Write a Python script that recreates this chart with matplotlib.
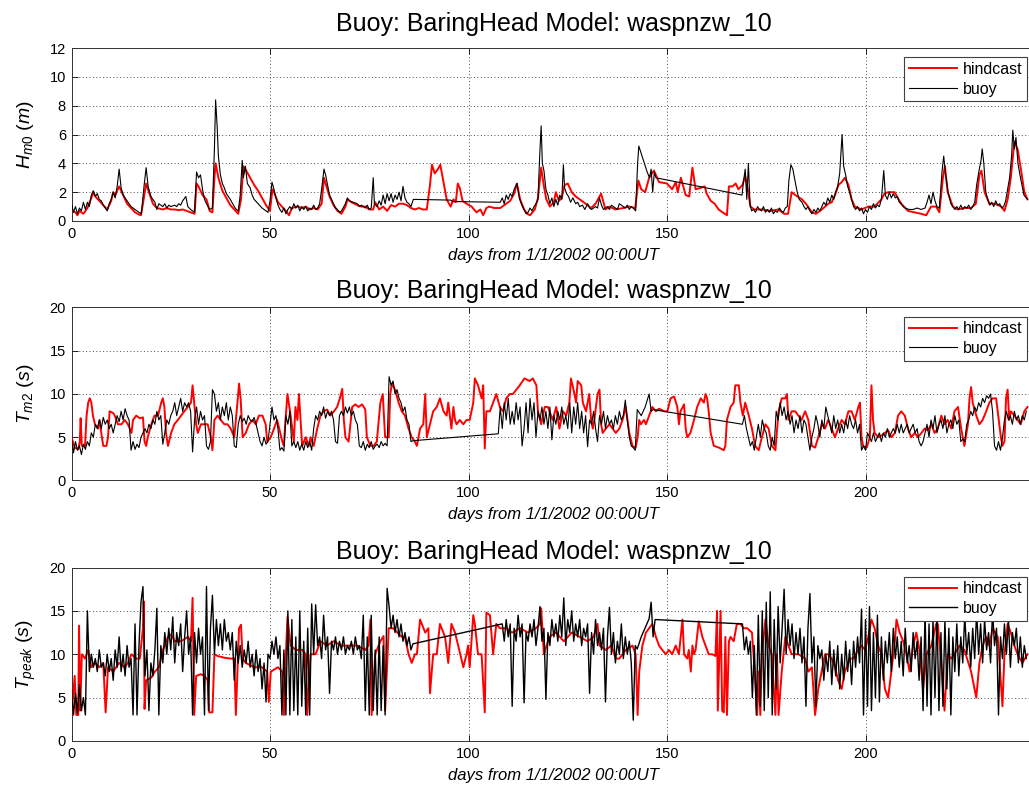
import numpy as np
import matplotlib
matplotlib.use("Agg")
import matplotlib.pyplot as plt

plt.rcParams["font.family"] = ["Liberation Sans", "DejaVu Sans"]
plt.rcParams["mathtext.fontset"] = "custom"
plt.rcParams["mathtext.rm"] = "Liberation Sans"
plt.rcParams["mathtext.it"] = "Liberation Sans:italic"
plt.rcParams["mathtext.bf"] = "Liberation Sans:bold"
plt.rcParams["mathtext.default"] = "it"

TITLE = "Buoy: BaringHead Model: waspnzw_10"
XLABEL = "days from 1/1/2002 00:00UT"
SERIES_NAMES = ["hindcast", "buoy"]
X_TICKS = [0, 50, 100, 150, 200]
HS_TICKS = [0, 2, 4, 6, 8, 10, 12]
T_TICKS = [0, 5, 10, 15, 20]
YLABELS = [r"$H_{m0}\ (m)$", r"$T_{m2}\ (s)$", r"$T_{peak}\ (s)$"]

# ---------------- Hm0 (m) ----------------
hs_hindcast = [
    (0, 0.7), (1, 0.6), (1.5, 0.4), (2, 0.7), (3, 0.5), (4, 0.9), (5, 1.6), (5.5, 2.0), (6, 1.7), (7, 1.4),
    (8, 1.1), (9, 0.8), (10, 1.4), (10.5, 2.0), (11, 1.8), (12, 2.4), (13, 1.8), (14, 1.2), (15, 0.9), (16, 0.6),
    (17, 0.45), (17.5, 0.4), (18, 1.2), (18.8, 2.6), (19.5, 2.0), (20.5, 1.2), (21.5, 0.9), (23, 0.8), (24, 0.9),
    (25, 0.8), (26, 0.8), (27, 0.75), (28, 0.8), (29, 0.7), (30, 0.6), (31, 0.5), (31.5, 2.6), (32, 2.4), (33, 1.8),
    (34, 1.5), (34.8, 0.7), (35.5, 0.6), (36, 3.0), (36.3, 4.0), (37, 3.0), (38, 2.1), (39, 1.6), (40, 1.1),
    (41, 0.8), (42, 0.5), (42.7, 1.5), (43.3, 3.8), (44, 3.5), (45, 3.0), (46, 2.5), (47, 2.1), (48, 1.6),
    (49, 1.1), (50, 0.7), (50.6, 2.2), (51, 2.0), (52, 1.3), (53, 1.0), (54, 0.7), (54.8, 0.4), (55.5, 0.9),
    (57, 1.0), (58, 0.9), (59, 1.0), (60, 0.8), (61, 0.9), (62, 0.8), (63, 1.2), (63.6, 3.0), (64, 2.6), (65, 1.7),
    (66, 1.1), (67, 0.7), (68, 0.5), (69, 1.0), (69.5, 1.5), (70.5, 1.3), (72, 1.1), (73, 1.0), (74, 1.0),
    (75, 0.8), (76, 0.8), (76.5, 1.3), (77.5, 0.8), (78.5, 1.0), (79.5, 0.7), (80.5, 1.1), (81.5, 1.0),
    (82.5, 1.2), (83.5, 1.2), (84.5, 1.1), (85.5, 0.9), (86.5, 0.8), (87.5, 0.9), (88.5, 0.8), (89.5, 0.8),
    (90.3, 2.5), (90.8, 3.9), (91.5, 3.3), (92.3, 3.6), (92.9, 3.9), (93.7, 2.7), (94.5, 1.5), (95.5, 1.0),
    (96.2, 1.5), (96.8, 1.3), (97.3, 2.6), (97.8, 2.3), (98.5, 1.4), (99.5, 1.2), (100.8, 1.0), (102, 0.6),
    (103, 0.8), (103.7, 0.4), (104.5, 0.9), (105.2, 1.0), (106.5, 0.9), (108, 0.9), (109.5, 1.2), (110.5, 1.4),
    (111.5, 1.9), (112.2, 2.6), (113, 1.5), (114, 0.8), (114.8, 0.5), (115.5, 0.4), (116.7, 0.8), (117.5, 1.6),
    (118.3, 3.7), (119, 2.4), (119.6, 1.5), (120.5, 1.0), (121.5, 1.3), (122, 2.0), (122.8, 1.4), (123.5, 1.6),
    (124.2, 2.5), (125, 2.6), (126, 2.0), (127, 1.7), (128.5, 1.4), (129.5, 1.2), (130.9, 0.9), (132, 1.2),
    (133.4, 1.9), (134.5, 0.8), (135.5, 1.0), (137, 0.8), (139, 0.9), (140.5, 1.0), (142, 0.9), (142.8, 2.8),
    (143.5, 2.2), (144.5, 2.0), (145.5, 3.0), (146.7, 3.5), (148, 2.7), (150, 2.6), (151.3, 2.2), (152.2, 2.7),
    (152.7, 2.0), (153.5, 3.0), (154.7, 1.8), (155.6, 1.7), (156.4, 3.7), (157.2, 2.2), (158.5, 2.3),
    (159.5, 2.4), (160, 1.9), (161, 1.4), (162, 1.2), (163, 0.8), (164, 0.6), (165.1, 0.4), (165.6, 2.4),
    (166.5, 2.4), (167.3, 2.6), (168, 2.2), (169, 2.5), (169.7, 3.1), (170.5, 2.0), (171, 1.0), (172, 0.8),
    (174, 0.8), (176, 0.7), (178, 0.8), (179.5, 0.5), (180.5, 0.5), (181.4, 2.0), (182.3, 1.8), (184, 1.5),
    (185, 1.2), (186.5, 0.6), (187.5, 0.5), (189, 0.8), (190.6, 1.2), (191.5, 1.3), (192.3, 1.8), (193.2, 2.5),
    (194, 2.7), (194.8, 3.0), (195.7, 2.5), (196.5, 1.5), (197.3, 1.0), (199, 0.8), (200.7, 1.0), (202.3, 1.0),
    (204, 1.5), (204.8, 1.9), (205.7, 2.0), (207.3, 2.0), (209, 1.2), (210.7, 0.7), (212.4, 0.6), (214, 0.5),
    (215.3, 0.4), (216.5, 1.0), (217.8, 1.0), (218.6, 0.6), (219.5, 3.0), (220, 3.8), (220.7, 2.0), (222, 1.0),
    (223.2, 0.8), (225, 0.9), (226.6, 0.9), (227.8, 1.2), (228.7, 3.2), (229.2, 3.5), (230, 2.0), (231.2, 1.2),
    (232.5, 1.2), (234.2, 1.0), (235, 0.7), (235.8, 1.5), (236.6, 3.0), (237.5, 5.5), (238.3, 5.0),
    (239.2, 3.5), (240, 2.0), (240.8, 1.5),
]

hs_buoy = [
    (0, 1.2), (0.5, 0.6), (1, 1.0), (1.5, 0.5), (2, 0.9), (2.5, 0.7), (3, 1.3), (3.5, 0.8), (4, 1.3), (4.5, 1.0),
    (5, 1.8), (5.5, 2.1), (6, 1.7), (6.5, 1.9), (7, 1.5), (7.5, 1.4), (8, 1.1), (8.5, 0.9), (9, 0.7), (9.5, 1.2),
    (10, 1.5), (10.5, 2.0), (11, 1.6), (11.5, 2.4), (12, 3.6), (12.5, 2.3), (13, 1.8), (14, 1.4), (15, 1.0),
    (16, 0.8), (17, 0.6), (17.6, 0.5), (18.3, 2.5), (18.8, 3.7), (19.3, 2.4), (20, 1.7), (21, 1.3), (21.5, 0.8),
    (22, 1.2), (23, 1.0), (23.5, 1.2), (24, 0.9), (24.5, 1.1), (25, 1.0), (26, 1.1), (26.5, 1.0), (27, 1.2),
    (27.5, 1.1), (28, 1.4), (28.8, 1.7), (29.3, 1.0), (30, 0.8), (30.5, 0.7), (31, 0.6), (31.5, 3.4), (32, 3.0),
    (32.5, 3.2), (33, 2.2), (33.5, 1.5), (34, 1.2), (34.8, 0.8), (35.5, 0.9), (36, 5.0), (36.3, 8.4), (36.7, 6.5),
    (37, 4.5), (37.5, 3.2), (38, 2.6), (38.5, 2.3), (39, 1.9), (40, 1.5), (41, 1.0), (41.5, 0.8), (42, 0.7),
    (42.5, 1.8), (43, 4.2), (43.3, 3.0), (43.8, 3.8), (44.3, 2.6), (45, 2.3), (45.5, 1.8), (46, 1.5), (47, 1.2),
    (48, 0.9), (49, 0.7), (49.5, 0.6), (50, 1.4), (50.5, 2.7), (51, 2.2), (51.5, 1.6), (52, 1.1), (52.5, 0.8),
    (53, 0.6), (53.5, 0.9), (54, 0.5), (54.5, 0.8), (55, 1.0), (55.5, 0.8), (56, 1.2), (56.5, 0.9), (57, 1.1),
    (57.5, 0.7), (58, 1.0), (58.5, 0.8), (59, 1.0), (59.5, 0.7), (60, 0.9), (60.5, 0.8), (61, 1.1), (61.5, 0.8),
    (62, 0.9), (62.5, 1.2), (63, 2.2), (63.6, 3.6), (64, 3.2), (64.5, 2.5), (65, 1.8), (66, 1.2), (66.5, 0.9),
    (67, 0.8), (67.5, 0.6), (68, 0.7), (69, 1.2), (69.5, 1.6), (70, 1.4), (71, 1.3), (72, 1.2), (72.5, 1.0),
    (73, 1.1), (74, 0.9), (74.5, 1.1), (75, 0.8), (75.5, 0.9), (76, 3.0), (76.3, 1.2), (77, 1.0), (77.5, 1.4),
    (78, 1.1), (78.5, 1.8), (79, 1.2), (79.5, 1.9), (80, 1.4), (80.5, 1.9), (81, 1.3), (81.5, 1.8), (82, 1.5),
    (82.5, 2.0), (83, 1.4), (83.5, 2.4), (84, 1.6), (84.5, 1.3), (85, 1.2), (85.5, 1.0), (86.1, 1.5),
    (95.5, 1.45), (96, 1.35), (108, 1.3), (108.5, 1.6), (109, 1.2), (109.5, 1.8), (110, 1.5), (110.5, 1.9),
    (111, 1.7), (111.5, 2.2), (112.2, 2.6), (112.8, 1.6), (113.3, 1.2), (114, 0.8), (114.5, 0.5), (115, 0.6),
    (115.5, 0.9), (116, 0.7), (116.5, 1.0), (117, 1.2), (117.5, 1.5), (117.9, 4.3), (118.3, 6.6), (118.6, 4.0),
    (119, 3.5), (119.5, 2.2), (120, 1.8), (120.5, 1.2), (121, 1.6), (121.5, 1.0), (122, 1.5), (122.5, 1.1),
    (123, 1.8), (123.5, 1.5), (123.9, 3.9), (124.2, 2.3), (124.7, 1.9), (125.2, 1.7), (125.7, 1.3), (126.3, 1.6),
    (127, 1.2), (127.5, 1.3), (128, 1.0), (128.7, 1.1), (129.3, 0.8), (130, 1.2), (130.5, 0.9), (131, 0.8),
    (132, 1.0), (132.5, 0.9), (133, 1.6), (133.5, 1.1), (134, 0.8), (135, 1.0), (135.5, 0.8), (136, 1.1),
    (137, 0.9), (137.5, 0.8), (138, 1.2), (139, 1.0), (139.5, 0.9), (140, 1.1), (140.5, 0.8), (141, 1.0),
    (141.5, 0.9), (142.1, 0.7), (142.6, 4.0), (142.9, 5.2), (145, 3.4), (145.6, 3.0), (146, 3.6), (146.4, 2.0),
    (146.8, 3.4), (147.2, 3.0), (168.9, 1.8), (169.3, 2.8), (169.7, 3.6), (170.1, 1.5), (170.5, 4.0),
    (170.9, 1.2), (171.3, 0.7), (171.8, 0.8), (172.3, 0.6), (172.8, 1.0), (173.3, 0.8), (173.8, 0.7),
    (174.3, 1.0), (174.8, 0.6), (175.3, 0.8), (175.8, 0.6), (176.3, 0.9), (176.8, 0.5), (177.3, 0.7),
    (177.8, 0.6), (178.3, 0.9), (178.8, 0.7), (179.3, 0.6), (179.8, 0.9), (180.3, 1.0), (180.7, 2.8),
    (181.2, 3.9), (181.7, 3.6), (182.3, 2.7), (182.8, 2.0), (183.3, 1.5), (184, 1.3), (184.5, 1.0), (185, 0.8),
    (185.5, 1.0), (186, 0.7), (186.5, 0.5), (187, 0.8), (187.5, 0.6), (188, 0.9), (188.5, 0.7), (189, 1.0),
    (189.5, 1.3), (190, 1.1), (190.5, 1.6), (191, 1.3), (191.5, 1.8), (192, 1.5), (192.5, 2.0), (193, 2.4),
    (193.5, 3.3), (194.1, 6.0), (194.5, 3.8), (195, 3.2), (195.5, 2.4), (196, 2.0), (196.5, 1.5), (197, 1.0),
    (197.5, 0.8), (198, 1.0), (198.5, 0.7), (199, 0.9), (199.5, 0.5), (200, 0.8), (200.5, 0.6), (201, 1.0),
    (201.5, 0.8), (202, 1.2), (202.5, 0.9), (203, 1.1), (203.5, 1.0), (204, 1.5), (204.6, 3.5), (205, 1.8),
    (205.5, 1.5), (206, 2.0), (206.5, 1.6), (207, 1.9), (207.5, 1.6), (208, 1.7), (208.5, 1.3), (209, 1.2),
    (209.5, 1.0), (210, 0.9), (211, 0.8), (212, 0.8), (213, 0.9), (214, 0.8), (215, 0.9), (215.5, 1.3),
    (216, 1.8), (216.5, 1.2), (217, 2.0), (217.5, 1.4), (218, 1.0), (218.6, 0.9), (219.3, 3.5), (219.7, 4.5),
    (220.2, 3.2), (220.8, 2.0), (221.5, 1.2), (222, 1.0), (222.5, 0.8), (223, 1.0), (223.5, 0.8), (224, 1.1),
    (224.5, 0.8), (225, 1.0), (225.5, 0.9), (226, 1.1), (226.5, 0.8), (227, 1.0), (227.5, 1.3), (228, 2.5),
    (228.6, 3.5), (229.1, 4.2), (229.4, 5.0), (229.8, 4.0), (230.3, 2.0), (230.8, 1.5), (231.3, 1.1),
    (231.8, 1.3), (232.3, 1.0), (232.8, 1.4), (233.3, 1.1), (233.8, 1.2), (234.3, 0.9), (234.8, 1.0),
    (235.3, 1.4), (235.8, 2.2), (236.3, 3.0), (236.8, 4.5), (237.1, 6.3), (237.5, 5.0), (237.9, 5.8),
    (238.4, 4.0), (238.9, 3.2), (239.4, 2.5), (239.9, 1.8), (240.8, 1.5),
]

# ---------------- Tm02 (s) ----------------
tm_hindcast = [
    (0, 5.0), (0.8, 3.8), (1.7, 3.6), (2.1, 4.5), (2.3, 7.2), (2.6, 4.0), (3.4, 4.0), (3.8, 7.5), (4.2, 9.0),
    (4.6, 9.5), (5.0, 9.0), (5.4, 7.5), (5.9, 6.5), (6.7, 6.0), (7.1, 7.0), (7.5, 5.5), (8.0, 4.0), (8.8, 4.0),
    (9.2, 5.0), (9.6, 8.0), (10.5, 7.8), (10.9, 7.5), (11.7, 6.5), (12.6, 6.5), (13.4, 7.0), (14.2, 6.5),
    (15.1, 5.5), (15.5, 7.0), (16.3, 7.5), (17.2, 7.2), (18.0, 7.3), (18.4, 4.5), (18.8, 4.0), (19.2, 5.0),
    (20.1, 6.5), (20.9, 7.5), (21.8, 7.5), (22.6, 9.0), (23.0, 9.5), (23.4, 8.5), (23.8, 5.5), (24.3, 4.0),
    (25.1, 5.5), (25.9, 6.5), (26.8, 7.0), (27.6, 7.5), (28.4, 8.0), (29.3, 8.5), (30.1, 9.0), (30.5, 11.0),
    (30.9, 9.0), (31.4, 6.5), (31.8, 5.5), (32.6, 6.5), (33.5, 6.5), (34.3, 6.5), (35.1, 5.0), (35.5, 3.5),
    (36.0, 7.0), (36.8, 7.5), (37.6, 7.0), (38.5, 6.5), (39.3, 6.5), (40.1, 6.0), (41.0, 5.0), (41.8, 9.0),
    (42.2, 11.2), (42.6, 9.5), (43.1, 5.0), (43.9, 5.5), (44.7, 6.5), (45.6, 7.0), (46.4, 6.5), (47.2, 7.5),
    (48.1, 7.5), (48.9, 6.5), (49.3, 4.5), (50.2, 5.0), (51.0, 6.0), (51.8, 7.0), (53.1, 4.5), (53.5, 4.0),
    (53.9, 7.0), (54.4, 10.0), (55.2, 7.5), (56.0, 4.5), (56.4, 8.5), (56.9, 7.0), (57.3, 10.0), (57.7, 7.0),
    (58.1, 4.0), (59.0, 5.0), (59.8, 4.0), (60.2, 5.0), (61.0, 4.0), (61.9, 6.0), (62.7, 7.5), (63.5, 8.0),
    (64.4, 8.2), (65.2, 7.5), (66.1, 8.0), (66.9, 8.5), (67.6, 9.5), (68.2, 10.6), (68.6, 7.0), (69.0, 5.0),
    (69.8, 4.5), (70.7, 8.5), (71.5, 8.8), (72.3, 8.5), (73.2, 8.8), (74.0, 8.2), (74.4, 5.0), (75.3, 4.0),
    (76.1, 4.0), (76.9, 4.5), (77.8, 9.0), (78.4, 10.0), (79.0, 5.0), (79.9, 5.0), (80.3, 10.0), (80.7, 11.2),
    (81.5, 10.5), (82.4, 9.0), (83.2, 8.0), (84.0, 7.5), (84.9, 6.0), (85.7, 5.0), (86.5, 4.5), (87.0, 4.0),
    (87.4, 5.0), (87.8, 6.0), (88.6, 6.5), (89.1, 10.0), (89.5, 5.0), (90.3, 6.5), (91.1, 8.0), (92.0, 8.5),
    (92.8, 9.5), (93.7, 8.0), (94.5, 7.5), (94.9, 9.0), (95.3, 7.5), (95.7, 6.0), (96.2, 8.5), (96.6, 7.0),
    (97.0, 6.5), (97.8, 7.0), (98.7, 6.5), (99.5, 7.0), (100.3, 7.0), (101.2, 9.0), (101.6, 11.8), (102.4, 11.0),
    (103.3, 9.5), (103.7, 11.0), (104.1, 3.7), (104.5, 8.0), (105.4, 8.0), (106.2, 9.0), (107.0, 10.0),
    (107.9, 8.5), (108.7, 8.0), (109.5, 9.5), (110.4, 10.0), (111.2, 10.0), (112.9, 11.0), (114.1, 11.8),
    (115.4, 11.5), (116.2, 11.8), (117.1, 11.0), (117.5, 8.0), (118.3, 6.5), (119.2, 8.5), (120.0, 8.5),
    (120.4, 8.0), (121.2, 7.0), (122.1, 8.5), (122.9, 6.0), (123.8, 8.0), (124.6, 7.5), (125.4, 9.0),
    (125.8, 11.8), (126.7, 10.0), (127.1, 9.0), (127.5, 11.5), (128.4, 11.0), (128.8, 9.0), (129.6, 8.0),
    (130.4, 10.0), (130.9, 7.0), (131.3, 6.0), (131.7, 7.0), (132.5, 10.0), (133.0, 10.5), (133.4, 6.5),
    (133.8, 5.5), (134.6, 6.0), (135.5, 6.5), (136.3, 6.0), (137.1, 5.5), (138.0, 6.0), (138.8, 7.0),
    (139.6, 8.5), (140.5, 5.5), (141.3, 4.0), (142.1, 3.8), (142.6, 5.0), (143.0, 7.0), (143.4, 6.5),
    (144.2, 7.0), (144.7, 6.5), (145.5, 7.5), (146.3, 8.5), (147.2, 8.0), (148.0, 8.3), (149.3, 8.0),
    (150.1, 8.0), (150.9, 9.5), (151.8, 9.7), (152.6, 8.5), (153.0, 6.5), (153.4, 8.0), (154.3, 8.8),
    (154.7, 6.0), (155.1, 5.0), (155.9, 5.5), (156.8, 7.0), (157.6, 8.5), (158.5, 9.5), (159.3, 9.0),
    (159.7, 10.0), (160.1, 9.5), (160.5, 8.0), (161.0, 5.5), (161.8, 4.0), (163.1, 3.8), (164.3, 3.5),
    (164.7, 4.0), (165.1, 7.0), (166.0, 8.5), (166.8, 9.0), (167.2, 11.0), (168.1, 11.0), (168.5, 9.0),
    (169.1, 7.5), (169.7, 9.0), (170.6, 7.5), (171.4, 6.0), (172.2, 4.0), (173.1, 3.5), (173.9, 5.0),
    (174.8, 6.5), (175.6, 6.0), (176.4, 4.0), (177.3, 3.5), (178.1, 8.0), (178.9, 9.5), (179.8, 9.5),
    (180.2, 10.0), (180.6, 7.0), (181.4, 8.0), (182.3, 8.0), (183.1, 7.5), (183.9, 7.0), (184.8, 8.0),
    (185.6, 7.0), (186.5, 4.0), (187.3, 3.8), (188.1, 5.0), (189.0, 6.5), (189.8, 6.0), (190.6, 7.0),
    (191.5, 6.0), (192.3, 5.0), (193.1, 6.0), (194.0, 7.0), (194.8, 6.5), (195.7, 8.0), (196.5, 8.0),
    (197.3, 7.0), (198.2, 8.5), (198.6, 9.0), (199.0, 5.0), (199.4, 4.0), (200.3, 3.8), (201.1, 5.0),
    (201.5, 11.0), (201.9, 7.0), (202.3, 5.5), (203.2, 5.0), (204.0, 5.2), (204.9, 5.5), (205.7, 5.8),
    (206.5, 5.0), (207.4, 5.5), (208.2, 7.5), (209.0, 8.0), (209.9, 7.5), (210.7, 6.0), (211.5, 5.0),
    (212.4, 5.5), (213.2, 5.0), (214.1, 5.5), (214.9, 6.0), (215.7, 5.8), (216.6, 6.5), (217.4, 5.5),
    (218.2, 6.0), (219.1, 7.5), (219.9, 6.5), (220.7, 7.0), (221.6, 6.0), (222.4, 8.0), (223.3, 8.5),
    (224.1, 6.0), (224.9, 4.0), (225.8, 6.5), (226.2, 9.5), (226.6, 10.8), (227.0, 9.0), (227.9, 7.5),
    (228.7, 6.5), (229.5, 7.0), (230.4, 8.0), (231.2, 9.0), (232.0, 9.5), (232.9, 9.5), (233.7, 6.5),
    (234.1, 5.0), (234.5, 4.0), (235.0, 4.5), (235.4, 9.5), (235.8, 10.5), (236.2, 7.0), (236.6, 8.0),
    (237.5, 7.5), (238.3, 7.0), (239.1, 6.5), (240.0, 8.0), (240.8, 8.5),
]

# buoy Tm02: half-day records in three runs, plus a few scattered records
tm_buoy_run1 = [
    5.0, 3.2, 4.5, 3.5, 4.0, 3.0, 4.2, 3.6, 4.5, 4.0,
    5.5, 5.0, 6.5, 6.0, 7.0, 6.0, 7.3, 6.5, 7.0, 6.0,
    6.5, 5.5, 6.5, 7.5, 6.8, 8.0, 7.0, 8.3, 7.5, 7.0,
    3.5, 4.5, 3.6, 4.2, 3.8, 5.0, 5.5, 6.0, 5.5, 6.5,
    6.0, 7.0, 6.5, 8.0, 7.0, 7.5, 4.2, 5.5, 7.0, 6.5,
    7.5, 8.0, 9.0, 7.5, 8.5, 9.5, 8.0, 9.0, 8.5, 9.0,
    8.0, 3.3, 7.0, 8.5, 6.5, 8.0, 7.0, 7.5, 4.0, 3.6,
    4.5, 10.5, 10.0, 8.0, 9.0, 7.0, 8.5, 7.5, 9.0, 7.0,
    8.5, 7.5, 4.0, 3.8, 6.5, 7.5, 6.8, 7.2, 6.5, 7.5,
    7.0, 6.8, 7.3, 6.5, 5.5, 4.5, 4.0, 5.0, 4.2, 4.5,
    6.5, 8.5, 7.0, 7.5, 6.0, 3.5, 3.8, 3.4, 7.5, 6.5,
    8.0, 4.0, 4.5, 3.8, 4.5, 3.5, 4.2, 3.5, 4.5, 3.8,
    4.5, 3.5, 6.0, 7.5, 7.0, 8.0, 7.5, 8.5, 7.2, 8.0,
    7.5, 8.0, 7.0, 4.5, 4.3, 7.5, 8.0, 7.5, 8.5, 7.8,
    8.5, 7.5, 8.0, 7.0, 6.5, 4.0, 3.8, 4.5, 3.5, 4.2,
    3.8, 4.5, 3.6, 4.0, 4.2, 3.8, 4.5, 4.0, 4.3, 4.0,
    12.0, 11.0, 11.5, 10.0, 10.5, 9.5, 9.0, 8.0, 8.5, 7.0,
    6.5, 4.5, 4.6,
]
tm_buoy_run2 = [
    5.4, 8.5, 6.0, 9.0, 7.0,
    9.5, 6.5, 8.0, 6.5, 9.0, 7.0, 8.5, 4.0, 6.0, 9.0,
    5.5, 9.5, 7.0, 9.0, 5.0, 8.0, 7.0, 8.5, 6.5, 8.0,
    6.0, 8.5, 4.7, 7.5, 6.5, 8.0, 7.0, 8.5, 6.5, 7.5,
    6.0, 9.0, 5.5, 8.5, 6.5, 9.0, 6.0, 8.0, 5.5, 7.5,
    3.9, 7.0, 6.5, 8.0, 6.0, 4.5, 7.5, 6.5, 8.0, 6.0,
    7.5, 6.5, 7.0, 6.0, 7.5, 6.5, 8.0, 7.0, 7.5, 9.3,
    7.0, 5.0, 4.0, 3.8, 3.5, 8.2,
]
tm_buoy_sparse = [(143.5, 7.5), (144.5, 8.5), (145.5, 10.0), (146.0, 8.0), (146.5, 8.2)]
tm_buoy_run3 = [
    6.5, 7.5, 6.0, 5.0, 4.0, 4.5, 3.5, 5.0, 6.5, 5.0,
    7.0, 6.0, 5.5, 4.0, 3.5, 5.0, 4.0, 8.0, 7.0, 9.0,
    7.5, 8.5, 7.0, 8.0, 6.5, 7.5, 5.5, 7.0, 6.0, 7.5,
    5.5, 7.0, 6.5, 5.0, 3.5, 5.0, 6.0, 7.5, 6.5, 5.0,
    7.0, 6.0, 8.5, 7.5, 6.5, 5.5, 7.5, 6.0, 7.0, 5.5,
    6.5, 5.5, 7.0, 6.0, 7.5, 6.5, 6.0, 7.0, 5.5, 6.5,
    3.5, 4.0, 3.5, 5.5, 5.0, 4.5, 5.5, 4.5, 5.0, 5.5,
    4.5, 5.5, 5.0, 6.0, 5.0, 5.5, 6.0, 5.5, 6.5, 5.5,
    6.5, 5.5, 6.0, 6.5, 5.5, 6.0, 6.5, 5.5, 6.0, 4.5,
    4.0, 4.5, 5.5, 6.5, 5.0, 7.0, 6.0, 7.5, 5.5, 6.5,
    7.0, 6.0, 7.5, 5.5, 6.5, 7.0, 6.0, 7.5, 6.5, 7.0,
    4.5, 4.8, 4.5, 6.5, 7.0, 8.0, 7.5, 8.5, 8.0, 9.0,
    8.5, 9.5, 9.0, 9.8, 9.5, 10.0, 8.0, 4.0, 3.5, 4.5,
    3.5, 5.0, 7.0, 8.0, 7.0, 7.5, 6.5, 8.0, 7.0, 7.5,
    6.5, 7.5, 7.0, 8.0,
]

# ---------------- Tpeak (s) ----------------
tp_hindcast = [
    (0, 3.0), (0.8, 7.5), (1.2, 3.0), (1.7, 3.0), (1.9, 13.3), (2.2, 3.5), (2.6, 10.0), (3.4, 9.5),
    (4.2, 10.5), (5.0, 8.5), (6.0, 9.0), (7.0, 8.5), (8.0, 9.0), (8.6, 3.3), (9.2, 8.5), (10.5, 8.0),
    (12.0, 9.0), (13.4, 8.5), (14.2, 9.0), (15.1, 10.0), (16.3, 9.5), (17.2, 9.5), (18.0, 13.0), (18.2, 16.1),
    (18.4, 3.7), (18.8, 7.0), (20.1, 7.3), (21.0, 8.0), (22.0, 8.5), (23.0, 10.5), (24.3, 12.0), (25.1, 12.3),
    (26.0, 11.5), (27.6, 11.5), (29.3, 12.0), (30.1, 11.5), (30.5, 16.5), (30.9, 3.0), (31.4, 7.5), (32.6, 7.7),
    (33.5, 7.5), (34.3, 7.0), (34.7, 3.3), (35.5, 3.3), (36.0, 10.0), (36.8, 9.8), (38.5, 9.6), (40.1, 9.5),
    (41.0, 9.5), (41.4, 3.0), (42.2, 13.0), (42.7, 13.4), (43.1, 9.5), (43.9, 9.0), (46.0, 8.5), (48.0, 8.5),
    (49.3, 8.0), (49.7, 4.5), (50.2, 8.0), (52.0, 8.5), (53.1, 8.0), (53.5, 3.0), (54.0, 10.0), (54.4, 14.3),
    (55.2, 11.0), (56.5, 10.5), (58.1, 10.5), (59.0, 10.0), (59.4, 3.0), (60.2, 10.0), (61.5, 10.0),
    (62.7, 11.5), (64.4, 11.0), (66.0, 11.5), (68.0, 11.0), (70.0, 11.0), (72.0, 11.0), (74.0, 10.5),
    (74.8, 11.0), (75.3, 14.0), (75.6, 3.0), (76.5, 10.0), (77.8, 11.5), (78.6, 12.1), (79.0, 3.5),
    (79.9, 13.0), (81.0, 13.0), (83.2, 12.0), (84.0, 12.0), (84.9, 10.0), (85.7, 9.0), (86.5, 10.0),
    (87.0, 10.0), (87.8, 14.0), (89.1, 12.5), (89.9, 13.0), (90.3, 5.5), (91.1, 10.0), (92.0, 10.0),
    (92.8, 13.5), (94.1, 12.0), (94.9, 9.0), (95.7, 13.5), (96.6, 12.5), (97.4, 11.0), (98.7, 8.5),
    (99.5, 10.0), (99.9, 11.0), (100.3, 8.5), (101.2, 14.5), (101.6, 13.5), (102.4, 10.0), (103.3, 10.0),
    (104.1, 3.3), (104.5, 14.8), (105.4, 14.5), (106.2, 10.0), (107.0, 13.5), (107.9, 13.0), (109.5, 13.0),
    (111.0, 12.5), (113.0, 13.0), (115.0, 12.5), (117.0, 13.0), (118.0, 13.5), (118.3, 15.3), (119.0, 10.0),
    (120.0, 11.5), (120.4, 12.0), (122, 12.5), (124, 11.5), (126, 12.5), (128, 12.0), (130, 11.5),
    (131.5, 12.0), (132.5, 13.5), (133.0, 11.0), (134.6, 10.5), (136.0, 11.0), (137.1, 9.5), (138.0, 9.5),
    (138.8, 10.0), (139.6, 10.5), (141.3, 11.0), (142.1, 10.0), (142.6, 3.0), (143.0, 8.0), (143.8, 11.0),
    (144.7, 12.5), (145.5, 13.0), (146.3, 13.5), (147.2, 12.0), (148.0, 11.0), (148.8, 10.5), (149.7, 10.0),
    (150.5, 10.5), (151.3, 10.0), (152.2, 11.0), (153.0, 10.0), (153.9, 14.0), (154.3, 10.0), (155.1, 9.5),
    (155.5, 10.5), (156.0, 8.0), (156.4, 11.0), (156.8, 10.0), (157.2, 10.5), (158.0, 13.8), (158.9, 12.0),
    (159.7, 11.0), (160.5, 10.0), (161.4, 10.0), (162.2, 9.8), (162.6, 15.0), (162.8, 3.5), (163.5, 15.0),
    (163.9, 3.5), (164.3, 3.3), (164.7, 12.0), (165.1, 3.0), (165.6, 11.5), (166.0, 12.0), (166.8, 11.5),
    (167.6, 13.5), (168.5, 13.5), (169.3, 13.0), (170.2, 13.0), (171.4, 12.5), (171.8, 10.0), (172.2, 7.0),
    (172.7, 3.0), (173.1, 8.0), (173.5, 3.0), (173.9, 10.0), (174.8, 14.0), (175.6, 11.0), (176.4, 10.0),
    (177.3, 3.0), (177.7, 10.0), (178.1, 3.0), (178.9, 8.0), (179.8, 12.0), (181.4, 10.0), (183.1, 10.0),
    (184.8, 9.5), (185.6, 8.0), (186.5, 8.5), (187.3, 3.0), (188.1, 6.0), (189.8, 10.0), (190.6, 10.0),
    (191.5, 9.5), (192.3, 8.5), (193.1, 7.0), (194.0, 6.0), (194.8, 8.0), (196.1, 9.5), (196.9, 9.5),
    (198.2, 10.5), (199.0, 11.0), (199.9, 10.5), (200.7, 12.0), (201.5, 14.0), (202.3, 13.0), (203.2, 11.0),
    (204.0, 10.0), (204.9, 6.0), (205.7, 5.0), (206.5, 8.0), (207.4, 11.5), (207.8, 14.0), (208.6, 12.5),
    (209.5, 11.5), (210.3, 10.0), (211.1, 8.0), (212.0, 11.0), (212.8, 12.5), (213.6, 10.5), (214.5, 6.0),
    (215.3, 10.0), (216.6, 11.0), (217.8, 13.5), (218.2, 13.5), (219.1, 9.0), (219.9, 3.5), (220.7, 10.0),
    (221.6, 9.5), (222.4, 10.0), (223.7, 11.0), (224.9, 10.5), (226.6, 8.0), (227.9, 5.0), (228.7, 9.0),
    (229.5, 11.0), (230.4, 12.0), (231.2, 11.0), (232.0, 13.0), (233.3, 12.0), (234.5, 4.0), (235.0, 10.0),
    (235.8, 13.5), (236.6, 12.5), (237.5, 11.0), (238.3, 10.0), (239.5, 9.0), (240.8, 10.0),
]

tp_buoy_run1 = [
    6.0, 3.0, 5.5, 3.2, 6.5, 3.5, 5.0, 3.0, 15.0, 8.0,
    10.0, 8.5, 9.5, 8.0, 10.5, 8.5, 9.0, 7.5, 10.0, 8.0,
    9.5, 7.0, 10.5, 8.5, 12.0, 8.0, 10.0, 7.5, 11.0, 8.5,
    9.5, 3.0, 13.5, 3.0, 11.0, 16.0, 17.8, 7.5, 10.5, 3.5,
    9.0, 7.5, 10.5, 15.3, 3.0, 11.0, 9.0, 12.5, 10.0, 13.0,
    10.5, 14.3, 9.0, 12.5, 11.0, 13.5, 8.0, 12.0, 15.0, 10.0,
    12.0, 3.0, 12.5, 9.0, 13.0, 10.0, 12.0, 3.0, 17.8, 3.5,
    13.0, 16.8, 10.0, 14.0, 11.0, 13.5, 10.5, 14.0, 11.5, 12.5,
    10.5, 12.5, 7.0, 11.5, 9.0, 11.0, 8.5, 10.5, 9.0, 11.5,
    8.5, 10.0, 7.5, 10.5, 8.0, 9.5, 6.0, 9.0, 4.5, 10.0,
    9.5, 11.5, 10.0, 12.0, 9.5, 11.0, 3.0, 10.5, 3.0, 15.0,
    3.0, 14.0, 3.5, 12.0, 3.0, 15.0, 4.0, 11.5, 3.0, 13.0,
    3.0, 15.8, 10.0, 15.7, 11.0, 12.0, 9.5, 14.5, 10.5, 12.0,
    5.5, 11.5, 10.5, 12.0, 10.0, 11.5, 10.5, 12.0, 10.0, 11.0,
    10.5, 11.5, 10.0, 12.0, 10.5, 11.0, 9.5, 14.5, 3.5, 12.0,
    3.0, 14.5, 3.5, 10.5, 3.0, 12.0, 3.5, 11.0, 3.0, 17.6,
    15.5, 13.0, 14.5, 12.5, 14.0, 12.0, 13.5, 11.5, 12.5, 11.0,
    12.0, 10.5, 11.2,
]
tp_buoy_run2 = [
    13.5, 11.5, 14.0, 12.0, 13.5, 4.0, 13.0, 11.5, 14.5,
    12.0, 13.5, 4.4, 12.5, 11.5, 13.5, 12.0, 14.0, 11.0, 13.0,
    15.5, 11.5, 13.0, 4.8, 12.5, 11.0, 14.0, 12.0, 13.5, 11.5,
    14.5, 12.0, 16.5, 11.0, 14.0, 12.5, 15.0, 11.5, 13.5, 12.0,
    14.0, 11.0, 13.0, 12.0, 13.5, 5.5, 12.5, 10.0, 14.0, 11.0,
    12.5, 10.5, 13.0, 4.5, 12.0, 15.4, 10.0, 12.5, 9.0, 11.5,
    10.0, 13.5, 9.5, 12.0, 10.0, 11.5, 9.0, 2.4, 11.0, 10.6,
]
tp_buoy_sparse = [(143.5, 12.0), (145.5, 14.1), (146.0, 16.0), (146.5, 12.0), (147.0, 14.0)]
tp_buoy_run3 = [
    13.5, 10.5, 12.0, 10.0, 11.5, 5.0, 11.0, 3.0, 14.5, 4.0,
    15.0, 3.5, 16.0, 5.0, 17.2, 3.0, 14.0, 6.0, 15.5, 9.0,
    13.0, 17.5, 10.0, 14.0, 11.0, 13.5, 9.5, 12.5, 10.0, 13.0,
    9.0, 12.0, 4.0, 13.0, 17.0, 9.0, 12.0, 4.0, 11.0, 9.5,
    10.5, 7.0, 10.0, 8.0, 11.5, 6.5, 10.5, 7.5, 11.0, 6.0,
    10.0, 7.0, 11.5, 8.0, 10.5, 6.5, 11.5, 8.5, 12.0, 9.0,
    15.2, 3.0, 14.0, 4.0, 15.5, 3.5, 12.5, 5.0, 14.5, 4.5,
    12.0, 7.0, 11.5, 9.0, 12.5, 8.0, 13.0, 9.5, 12.0, 8.5,
    11.5, 7.5, 13.0, 9.0, 11.0, 8.0, 12.5, 9.5, 11.5, 7.0,
    12.0, 3.5, 15.0, 4.0, 13.5, 3.0, 14.0, 5.0, 15.0, 3.5,
    12.5, 4.0, 14.0, 6.0, 13.0, 3.0, 12.0, 8.0, 13.5, 7.5,
    12.0, 9.0, 14.5, 10.0, 12.5, 8.5, 13.0, 9.5, 15.0, 10.0,
    13.5, 9.0, 14.0, 10.5, 12.5, 9.0, 15.0, 11.0, 13.0, 3.0,
    12.0, 9.5, 13.5, 10.0, 14.0, 8.5, 12.5, 11.0, 13.0, 9.0,
    12.0, 8.5, 11.0, 9.5,
]

# run start / end days of the half-day buoy records
TM_RUNS = [(0.0, 86.0), (107.5, 142.5), (169.0, 240.5)]
TP_RUNS = [(0.0, 86.0), (108.5, 142.5), (169.0, 240.5)]


def pairs(points):
    arr = np.asarray(points, dtype=float)
    return arr[:, 0], arr[:, 1]


def half_day_series(runs, values, sparse):
    """Join half-day runs and scattered records into one time-ordered series."""
    day_parts = [np.arange(a, b + 0.25, 0.5) for a, b in runs]
    assert [len(v) for v in values] == [len(d) for d in day_parts]
    sd, sv = pairs(sparse)
    days = np.concatenate([day_parts[0], day_parts[1], sd, day_parts[2]])
    vals = np.concatenate([values[0], values[1], sv, values[2]])
    return days, vals


tm_buoy_days, tm_buoy_vals = half_day_series(
    TM_RUNS, [tm_buoy_run1, tm_buoy_run2, tm_buoy_run3], tm_buoy_sparse)
tp_buoy_days, tp_buoy_vals = half_day_series(
    TP_RUNS, [tp_buoy_run1, tp_buoy_run2, tp_buoy_run3], tp_buoy_sparse)

panels = [
    (pairs(hs_hindcast), pairs(hs_buoy), (0, 12), HS_TICKS, 0.8),
    (pairs(tm_hindcast), (tm_buoy_days, tm_buoy_vals), (0, 20), T_TICKS, 0.8),
    (pairs(tp_hindcast), (tp_buoy_days, tp_buoy_vals), (0, 20), T_TICKS, 1.0),
]

W, H = 1029, 788
fig = plt.figure(figsize=(W / 100, H / 100), dpi=100)

AX_LEFT, AX_RIGHT = 71.5, 1036.0          # pixels
PX_PER_DAY = (270.0 - 71.5) / 50.0
XMAX = (AX_RIGHT - AX_LEFT) / PX_PER_DAY
AX_ROWS = [(48.0, 221.0), (307.5, 480.5), (567.5, 741.0)]   # top, bottom in pixels
TITLE_Y = [23.5, 291.5, 551.5]
XLABEL_GAP = 34.5                          # label centre below the axes, pixels

for i, ((hx, hy), (bx, by), ylim, yticks, buoy_lw) in enumerate(panels):
    top, bot = AX_ROWS[i]
    ax = fig.add_axes([AX_LEFT / W, 1 - bot / H, (AX_RIGHT - AX_LEFT) / W, (bot - top) / H])
    ax.plot(hx, hy, color="#ff0000", lw=1.4, label=SERIES_NAMES[0], zorder=3)
    ax.plot(bx, by, color="black", lw=buoy_lw, label=SERIES_NAMES[1], zorder=4)
    ax.set_xlim(0, XMAX)
    ax.set_ylim(*ylim)
    ax.set_xticks(X_TICKS)
    ax.set_yticks(yticks)
    ax.grid(True, linestyle=(0, (1, 2.5)), color="0.3", lw=0.7)
    ax.set_axisbelow(True)
    ax.tick_params(direction="in", length=4, width=0.6, top=True, right=True,
                   labelsize=10.5, pad=4, colors="black")
    for sp in ax.spines.values():
        sp.set_linewidth(0.7)
        sp.set_color("0.2")

    axh = bot - top
    axw = AX_RIGHT - AX_LEFT
    ax.set_title(TITLE, fontsize=18, pad=0, y=1 + (top - TITLE_Y[i]) / axh, va="center")
    ax.set_xlabel(XLABEL, fontsize=12, style="italic", va="center")
    ax.xaxis.set_label_coords(0.5, -XLABEL_GAP / axh)
    ax.set_ylabel(YLABELS[i], fontsize=14, va="center")
    ax.yaxis.set_label_coords(-(AX_LEFT - 26) / axw, 0.5)

    leg = ax.legend(loc="upper right", bbox_to_anchor=(1027 / W, 1 - (top + 9) / H),
                    bbox_transform=fig.transFigure, borderaxespad=0, fontsize=11.5,
                    handlelength=3.0, handletextpad=0.35, borderpad=0.3,
                    labelspacing=0.3, fancybox=False, framealpha=1)
    leg.get_frame().set_edgecolor("0.25")
    leg.get_frame().set_linewidth(0.8)

fig.savefig("out.png", dpi=100)
